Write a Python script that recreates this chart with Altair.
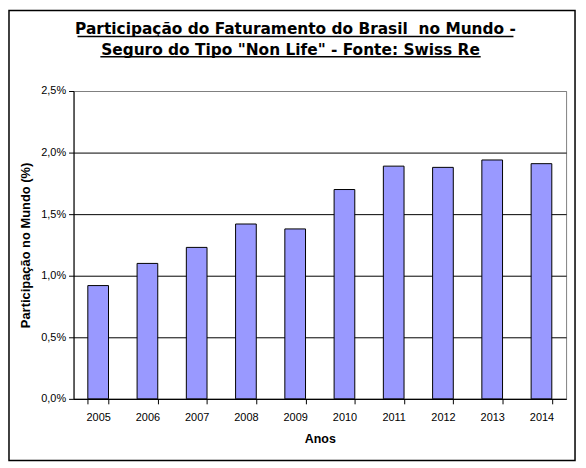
import altair as alt
import pandas as pd

anos = ["2005", "2006", "2007", "2008", "2009", "2010", "2011", "2012", "2013", "2014"]
participacao = [0.92, 1.10, 1.23, 1.42, 1.38, 1.70, 1.89, 1.88, 1.94, 1.91]

titulo1 = 'Participação do Faturamento do Brasil\u00a0 no Mundo -'
titulo2 = 'Seguro do Tipo "Non Life" - Fonte: Swiss Re'

df = pd.DataFrame({"Ano": anos, "Participacao": participacao})

label_font = "Liberation Sans"

bars = alt.Chart(df).mark_bar(
    color="#9999FF", stroke="black", strokeWidth=1
).encode(
    x=alt.X("Ano:N",
            scale=alt.Scale(paddingInner=0.58, paddingOuter=0.29),
            axis=alt.Axis(title="Anos", labelAngle=0, tickBand="extent",
                          domainColor="black", tickColor="black", tickSize=5,
                          labelFont=label_font, labelFontSize=11, labelColor="black",
                          labelPadding=8,
                          titleFont=label_font, titleFontSize=12.5, titleFontWeight="bold",
                          titleColor="black", titlePadding=10)),
    y=alt.Y("Participacao:Q",
            scale=alt.Scale(domain=[0, 2.5], nice=False),
            axis=alt.Axis(title="Participação no Mundo (%)",
                          values=[0, 0.5, 1.0, 1.5, 2.0, 2.5],
                          labelExpr="replace(format(datum.value, '.1f'), '.', ',') + '%'",
                          grid=True,
                          gridColor=alt.condition(alt.datum.value == 2.5,
                                                  alt.value("#808080"), alt.value("black")),
                          domainColor="black", tickColor="black", tickSize=5,
                          labelFont=label_font, labelFontSize=11, labelColor="black",
                          labelPadding=3,
                          titleFont=label_font, titleFontSize=13, titleFontWeight="bold",
                          titleColor="black", titlePadding=8)),
)

um = alt.Data(values=[{}])

borda = alt.Chart(um).mark_rect(
    filled=False, stroke="black", strokeWidth=1.5
).encode(
    x=alt.value(-65), x2=alt.value(505), y=alt.value(-81), y2=alt.value(372)
)

# titulo sublinhado, como no Excel
linha1 = alt.Chart(um).mark_text(
    font="DejaVu Sans", fontSize=15.5, fontWeight="bold", color="black",
    align="center", baseline="alphabetic"
).encode(x=alt.value(223.5), y=alt.value(-57), text=alt.value(titulo1))
linha2 = alt.Chart(um).mark_text(
    font="DejaVu Sans", fontSize=15.5, fontWeight="bold", color="black",
    align="center", baseline="alphabetic"
).encode(x=alt.value(218.5), y=alt.value(-36.5), text=alt.value(titulo2))

sub1 = alt.Chart(um).mark_rule(color="black", strokeWidth=1.5).encode(
    x=alt.value(4), x2=alt.value(443), y=alt.value(-55)
)
sub2 = alt.Chart(um).mark_rule(color="black", strokeWidth=1.5).encode(
    x=alt.value(27), x2=alt.value(410), y=alt.value(-34.5)
)

chart = alt.layer(bars, borda, linha1, linha2, sub1, sub2).properties(
    width=496,
    height=310,
    autosize=alt.AutoSizeParams(type="none"),
    padding={"left": 66, "top": 82, "right": 12, "bottom": 64},
).configure_view(stroke="#808080", strokeWidth=1)

chart.save("out.html", embed_options={"renderer": "svg", "actions": False})
